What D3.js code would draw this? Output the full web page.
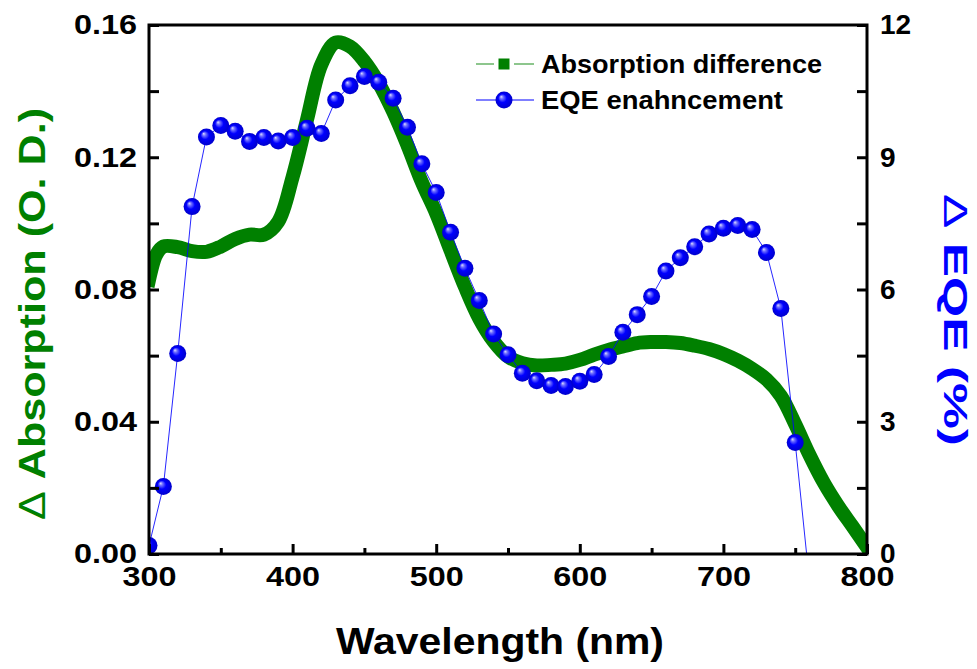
<!DOCTYPE html>
<html>
<head>
<meta charset="utf-8">
<script src="https://cdn.jsdelivr.net/npm/d3@7"></script>
<style>
  html, body { margin: 0; padding: 0; background: #fff; }
  svg { display: block; }
  text { font-family: "Liberation Sans", Arial, sans-serif; font-weight: bold; }
</style>
</head>
<body>
<svg id="chart" width="977" height="669"></svg>
<script>
// Absorption difference spectrum (left axis, O.D.)
const absWavelength = [300, 305, 310, 320, 330, 340, 350, 360, 370, 380, 390, 400, 410, 420, 430, 440,
  450, 460, 470, 480, 490, 500, 510, 520, 530, 540, 550, 560, 570, 580, 590, 600, 610, 620, 630,
  640, 650, 660, 670, 680, 690, 700, 710, 720, 730, 740, 750, 760, 770, 780, 790, 800];
const absValue = [0.083, 0.0905, 0.0930, 0.0928, 0.0916, 0.0914, 0.0930, 0.0953, 0.0966, 0.0966, 0.1005,
  0.1140, 0.1313, 0.1480, 0.1547, 0.1535, 0.1490, 0.1424, 0.1338, 0.1236, 0.1125, 0.1030, 0.0918,
  0.0808, 0.0712, 0.0643, 0.0597, 0.0577, 0.0570, 0.0572, 0.0576, 0.0587, 0.0603, 0.0617, 0.0628,
  0.0638, 0.0641, 0.0641, 0.0638, 0.0630, 0.0620, 0.0605, 0.0585, 0.0560, 0.0528, 0.0478, 0.0393,
  0.0299, 0.0215, 0.0145, 0.0083, 0.0020];

// EQE enhancement (right axis, %)
const eqeWavelength = [300, 310, 320, 330, 340, 350, 360, 370, 380, 390, 400, 410, 420, 430, 440, 450,
  460, 470, 480, 490, 500, 510, 520, 530, 540, 550, 560, 570, 580, 590, 600, 610, 620, 630, 640,
  650, 660, 670, 680, 690, 700, 710, 720, 730, 740, 750, 760];
const eqeValue = [0.19, 1.53, 4.55, 7.88, 9.46, 9.72, 9.59, 9.36, 9.45, 9.37, 9.45, 9.66, 9.54, 10.3,
  10.62, 10.83, 10.7, 10.34, 9.68, 8.85, 8.2, 7.3, 6.48, 5.75, 4.99, 4.52, 4.1, 3.93, 3.82, 3.8,
  3.92, 4.07, 4.48, 5.03, 5.43, 5.84, 6.42, 6.72, 6.97, 7.26, 7.39, 7.45, 7.36, 6.84, 5.57, 2.53, -0.65];

// Tick values
const xMajorTicks = [300, 400, 500, 600, 700, 800];
const xMinorTicks = [350, 450, 550, 650, 750];
const yLeftTicks = [0, 0.02, 0.04, 0.06, 0.08, 0.10, 0.12, 0.14, 0.16];
const yLeftLabels = [0, 0.04, 0.08, 0.12, 0.16];
const yRightTicks = [0, 1.5, 3, 4.5, 6, 7.5, 9, 10.5, 12];
const yRightLabels = [0, 3, 6, 9, 12];

const legendLabels = ["Absorption difference", "EQE enahncement"];

const GREEN = "#008000";
const BLUE = "#0000ff";

const svg = d3.select("#chart");
const plot = { left: 149, right: 867, top: 25, bottom: 554 };

const x = d3.scaleLinear().domain([300, 800]).range([plot.left, plot.right]);
const yL = d3.scaleLinear().domain([0, 0.16]).range([plot.bottom, plot.top]);
const yR = d3.scaleLinear().domain([0, 12]).range([plot.bottom, plot.top]);

const defs = svg.append("defs");
defs.append("clipPath").attr("id", "plotClip")
  .append("rect")
  .attr("x", plot.left).attr("y", plot.top)
  .attr("width", plot.right - plot.left).attr("height", plot.bottom - plot.top);

// shaded sphere for the EQE markers
const grad = defs.append("radialGradient").attr("id", "sphere")
  .attr("cx", "50%").attr("cy", "50%").attr("r", "50%")
  .attr("fx", "33%").attr("fy", "30%");
grad.append("stop").attr("offset", "0%").attr("stop-color", "#e0e0ff");
grad.append("stop").attr("offset", "20%").attr("stop-color", "#7070ff");
grad.append("stop").attr("offset", "50%").attr("stop-color", "#0000ff");
grad.append("stop").attr("offset", "100%").attr("stop-color", "#0000cc");

const dataArea = svg.append("g").attr("clip-path", "url(#plotClip)");

// Absorption difference: thick green band
const absData = absWavelength.map((w, i) => [w, absValue[i]]);
dataArea.append("path")
  .datum(absData)
  .attr("fill", "none")
  .attr("stroke", GREEN)
  .attr("stroke-width", 14)
  .attr("stroke-linejoin", "round")
  .attr("stroke-linecap", "square")
  .attr("d", d3.line().x(d => x(d[0])).y(d => yL(d[1])).curve(d3.curveCatmullRom.alpha(0.5)));

// EQE enhancement: thin line with sphere markers
const eqeData = eqeWavelength.map((w, i) => [w, eqeValue[i]]);
dataArea.append("path")
  .datum(eqeData)
  .attr("fill", "none")
  .attr("stroke", BLUE)
  .attr("stroke-opacity", 0.85)
  .attr("stroke-width", 1)
  .attr("d", d3.line().x(d => x(d[0])).y(d => yR(d[1])));

dataArea.selectAll("circle.eqe")
  .data(eqeData)
  .join("circle")
  .attr("class", "eqe")
  .attr("cx", d => x(d[0]))
  .attr("cy", d => yR(d[1]))
  .attr("r", 8.5)
  .attr("fill", "url(#sphere)");

// Axes
const fontTick = 28;
const styleAxis = g => {
  g.select(".domain").remove();
  g.selectAll(".tick line").attr("stroke", "#000").attr("stroke-width", 3);
  g.selectAll(".tick text").attr("fill", "#000").style("font-size", fontTick + "px");
};

svg.append("g")
  .attr("transform", `translate(0,${plot.bottom})`)
  .call(d3.axisBottom(x).tickValues(xMajorTicks).tickSize(-10).tickPadding(12).tickFormat(d3.format("d")))
  .call(styleAxis)
  .call(g => g.selectAll(".tick text").attr("textLength", 54).attr("lengthAdjust", "spacingAndGlyphs"));
svg.append("g")
  .attr("transform", `translate(0,${plot.bottom})`)
  .call(d3.axisBottom(x).tickValues(xMinorTicks).tickSize(-6).tickFormat(""))
  .call(styleAxis);

svg.append("g")
  .attr("transform", `translate(${plot.left},0)`)
  .call(d3.axisLeft(yL).tickValues(yLeftTicks).tickSize(-10).tickPadding(12)
    .tickFormat(d => yLeftLabels.some(v => Math.abs(v - d) < 1e-9) ? d3.format(".2f")(d) : ""))
  .call(styleAxis)
  .call(g => g.selectAll(".tick text").filter(function () { return this.textContent !== ""; })
    .attr("textLength", 63).attr("lengthAdjust", "spacingAndGlyphs"));

svg.append("g")
  .attr("transform", `translate(${plot.right},0)`)
  .call(d3.axisRight(yR).tickValues(yRightTicks).tickSize(-10).tickPadding(13)
    .tickFormat(d => yRightLabels.includes(d) ? d3.format("d")(d) : ""))
  .call(styleAxis);

// Frame
svg.append("rect")
  .attr("x", plot.left).attr("y", plot.top)
  .attr("width", plot.right - plot.left).attr("height", plot.bottom - plot.top)
  .attr("fill", "none").attr("stroke", "#000").attr("stroke-width", 3);

// Axis titles
svg.append("text")
  .attr("x", 500)
  .attr("y", 654)
  .attr("text-anchor", "middle")
  .attr("textLength", 328).attr("lengthAdjust", "spacingAndGlyphs")
  .style("font-size", "36px")
  .attr("fill", "#000")
  .text("Wavelength (nm)");

const leftTitle = svg.append("text")
  .attr("transform", "translate(45,314) rotate(-90)")
  .attr("text-anchor", "middle")
  .attr("textLength", 412).attr("lengthAdjust", "spacingAndGlyphs")
  .style("font-size", "36px")
  .attr("fill", GREEN);
leftTitle.append("tspan").style("font-weight", "normal").text("\u0394");
leftTitle.append("tspan").text(" Absorption (O. D.)");

const rightTitle = svg.append("text")
  .attr("transform", "translate(944,320) rotate(90)")
  .attr("text-anchor", "middle")
  .attr("textLength", 252).attr("lengthAdjust", "spacingAndGlyphs")
  .style("font-size", "34px")
  .attr("fill", BLUE);
rightTitle.append("tspan").style("font-weight", "normal").text("\u0394");
rightTitle.append("tspan").text(" EQE (%)");

// Legend
const legend = svg.append("g");
const lg1y = 64, lg2y = 100;
legend.append("line").attr("x1", 476).attr("x2", 494).attr("y1", lg1y).attr("y2", lg1y)
  .attr("stroke", GREEN).attr("stroke-opacity", 0.6).attr("stroke-width", 1.5);
legend.append("line").attr("x1", 514).attr("x2", 534).attr("y1", lg1y).attr("y2", lg1y)
  .attr("stroke", GREEN).attr("stroke-opacity", 0.6).attr("stroke-width", 1.5);
legend.append("rect").attr("x", 498.5).attr("y", lg1y - 5.5).attr("width", 11).attr("height", 11)
  .attr("fill", GREEN);
legend.append("line").attr("x1", 476).attr("x2", 534).attr("y1", lg2y).attr("y2", lg2y)
  .attr("stroke", BLUE).attr("stroke-width", 1);
legend.append("circle").attr("cx", 504).attr("cy", lg2y).attr("r", 8.5).attr("fill", "url(#sphere)");
const legendWidths = [281, 242];
legend.selectAll("text.lg")
  .data(legendLabels)
  .join("text")
  .attr("class", "lg")
  .attr("x", 541)
  .attr("y", (d, i) => [lg1y, lg2y][i])
  .attr("dy", "0.36em")
  .attr("textLength", (d, i) => legendWidths[i]).attr("lengthAdjust", "spacingAndGlyphs")
  .style("font-size", "25px")
  .attr("fill", "#000")
  .text(d => d);
</script>
</body>
</html>
